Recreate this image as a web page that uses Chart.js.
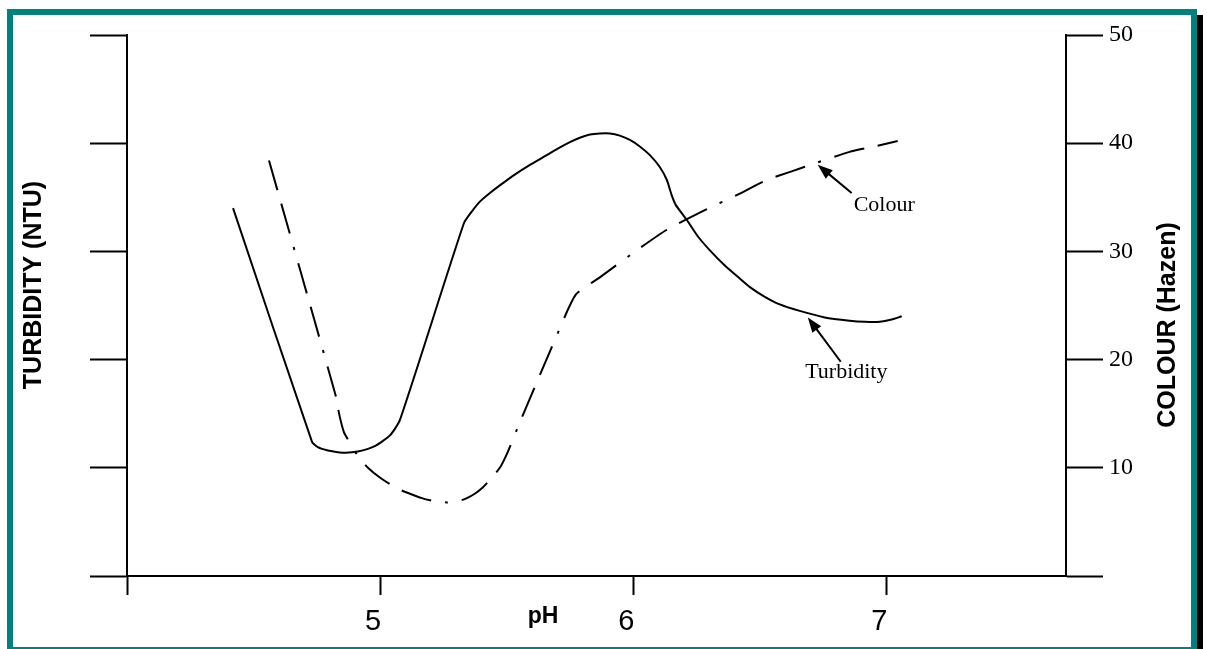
<!DOCTYPE html>
<html>
<head>
<meta charset="utf-8">
<script src="https://cdn.jsdelivr.net/npm/chart.js@4.4.1/dist/chart.umd.min.js"></script>
<style>
  html, body { margin: 0; padding: 0; background: #fff; overflow: hidden; }
  #wrap { position: relative; width: 1207px; height: 649px; }
  #frame {
    position: absolute; left: 7px; top: 9px; width: 1190px; height: 644px;
    box-sizing: border-box; border: 6px solid #008080;
    box-shadow: 6px 6px 0 0 #000; pointer-events: none;
  }
  canvas { position: absolute; left: 0; top: 0; }
</style>
</head>
<body>
<div id="wrap">
  <canvas id="chart" width="1207" height="649"></canvas>
  <div id="frame"></div>
</div>
<script>
// pH vs turbidity (solid line, left axis, unlabelled)
const phTurbidity = [4.419, 4.731, 4.754, 4.794, 4.853, 4.912, 4.979, 5.039, 5.078, 5.331,
  5.363, 5.394, 5.434, 5.473, 5.532, 5.592, 5.651, 5.702, 5.750, 5.789, 5.829, 5.868,
  5.908, 5.947, 5.987, 6.026, 6.066, 6.105, 6.133, 6.152, 6.168, 6.212, 6.255, 6.303,
  6.362, 6.421, 6.461, 6.520, 6.579, 6.658, 6.757, 6.855, 6.915, 6.974, 7.021, 7.061];
const turbidity = [34.0, 12.4, 11.9, 11.6, 11.4, 11.5, 12.0, 13.0, 14.4, 32.6,
  33.7, 34.6, 35.4, 36.1, 37.1, 38.0, 38.8, 39.5, 40.1, 40.5, 40.8, 40.9,
  40.9, 40.7, 40.3, 39.7, 38.9, 37.8, 36.6, 35.2, 34.3, 32.9, 31.4, 30.1,
  28.7, 27.5, 26.7, 25.8, 25.1, 24.5, 23.9, 23.6, 23.5, 23.5, 23.7, 24.0];

// pH vs colour (dash-dot line, right axis, Hazen)
const phColour = [4.561, 4.829, 4.837, 4.857, 4.881, 4.912, 4.952, 4.999, 5.066, 5.118,
  5.165, 5.216, 5.264, 5.307, 5.343, 5.374, 5.402, 5.434, 5.473, 5.505, 5.552, 5.694,
  5.773, 5.868, 6.014, 6.133, 6.291, 6.409, 6.528, 6.626, 6.725, 6.855, 6.954, 7.045];
const colour = [38.4, 16.3, 15.1, 13.3, 12.3, 11.1, 10.0, 9.1, 8.1, 7.6,
  7.2, 6.9, 6.8, 6.9, 7.2, 7.6, 8.1, 8.9, 10.0, 11.5, 14.2, 22.0,
  26.0, 27.6, 30.1, 32.0, 33.9, 35.2, 36.6, 37.4, 38.2, 39.2, 39.7, 40.2];

const xTicks = [4, 5, 6, 7];
const yTicks = [0, 10, 20, 30, 40, 50];

// arrow callouts, in (pH, value) units
const callouts = [
  { text: 'Colour', tip: [6.729, 38.0], tail: [6.863, 35.4], at: [6.871, 34.3], align: 'left' },
  { text: 'Turbidity', tip: [6.690, 23.9], tail: [6.820, 19.8], at: [6.842, 18.8], align: 'center' }
];

const toPoints = (xs, ys) => xs.map((x, i) => ({ x: x, y: ys[i] }));

function drawArrow(ctx, x1, y1, x2, y2) {
  const a = Math.atan2(y2 - y1, x2 - x1);
  const len = 15, half = 5.5;
  ctx.lineWidth = 2;
  ctx.beginPath();
  ctx.moveTo(x1, y1);
  ctx.lineTo(x2 - (len - 2) * Math.cos(a), y2 - (len - 2) * Math.sin(a));
  ctx.stroke();
  const bx = x2 - len * Math.cos(a), by = y2 - len * Math.sin(a);
  ctx.beginPath();
  ctx.moveTo(x2, y2);
  ctx.lineTo(bx + half * Math.sin(a), by - half * Math.cos(a));
  ctx.lineTo(bx - half * Math.sin(a), by + half * Math.cos(a));
  ctx.closePath();
  ctx.fill();
}

const notes = {
  id: 'notes',
  afterDraw(chart) {
    const { ctx } = chart;
    const x = chart.scales.x, y = chart.scales.yCol;
    ctx.save();
    ctx.fillStyle = '#000';
    ctx.strokeStyle = '#000';

    // axis titles, both read bottom to top
    ctx.font = 'bold 25px "Liberation Sans", Arial, sans-serif';
    ctx.textAlign = 'center';
    ctx.textBaseline = 'middle';
    [['TURBIDITY (NTU)', 34, 285], ['COLOUR (Hazen)', 1168, 325]].forEach(([t, cx, cy]) => {
      ctx.save();
      ctx.translate(cx, cy);
      ctx.rotate(-Math.PI / 2);
      ctx.fillText(t, 0, 0);
      ctx.restore();
    });

    ctx.font = 'bold 23px "Liberation Sans", Arial, sans-serif';
    ctx.textBaseline = 'alphabetic';
    ctx.fillText('pH', 543, 623);

    ctx.font = '22px "Liberation Serif", "Times New Roman", serif';
    ctx.textBaseline = 'middle';
    callouts.forEach(c => {
      drawArrow(ctx,
        x.getPixelForValue(c.tail[0]), y.getPixelForValue(c.tail[1]),
        x.getPixelForValue(c.tip[0]), y.getPixelForValue(c.tip[1]));
      ctx.textAlign = c.align;
      ctx.fillText(c.text, x.getPixelForValue(c.at[0]), y.getPixelForValue(c.at[1]));
    });
    ctx.restore();
  }
};

const axisLine = { color: '#000', width: 2 };

new Chart(document.getElementById('chart').getContext('2d'), {
  type: 'line',
  data: {
    datasets: [
      {
        label: 'Turbidity',
        data: toPoints(phTurbidity, turbidity),
        yAxisID: 'yTurb',
        borderColor: '#000',
        borderWidth: 2,
        pointRadius: 0,
        tension: 0.2,
        fill: false
      },
      {
        label: 'Colour',
        data: toPoints(phColour, colour),
        yAxisID: 'yCol',
        borderColor: '#000',
        borderWidth: 2,
        borderDash: [31, 14, 31, 14, 3, 14],
        pointRadius: 0,
        tension: 0.2,
        fill: false
      }
    ]
  },
  options: {
    responsive: false,
    animation: false,
    layout: { padding: { top: 35, left: 0, right: 0, bottom: 0 } },
    plugins: {
      legend: { display: false },
      tooltip: { enabled: false }
    },
    scales: {
      x: {
        type: 'linear',
        min: 4,
        max: 7.71,
        afterBuildTicks: s => { s.ticks = xTicks.map(v => ({ value: v })); },
        afterFit: s => { s.height = 73; },
        border: axisLine,
        grid: { drawOnChartArea: false, tickLength: 19, tickColor: '#000', tickWidth: 2 },
        ticks: {
          callback: v => (v === 4 ? '' : v),
          color: '#000',
          font: { family: '"Liberation Sans", Arial, sans-serif', size: 29 },
          padding: 10,
          labelOffset: -7,
          maxRotation: 0
        }
      },
      yTurb: {
        position: 'left',
        min: 0,
        max: 50,
        afterBuildTicks: s => { s.ticks = yTicks.map(v => ({ value: v })); },
        afterFit: s => { s.width = 127; },
        border: axisLine,
        grid: { drawOnChartArea: false, tickLength: 37, tickColor: '#000', tickWidth: 2 },
        ticks: { display: false }
      },
      yCol: {
        position: 'right',
        min: 0,
        max: 50,
        afterBuildTicks: s => { s.ticks = yTicks.map(v => ({ value: v })); },
        afterFit: s => { s.width = 141; },
        border: axisLine,
        grid: { drawOnChartArea: false, tickLength: 37, tickColor: '#000', tickWidth: 2 },
        ticks: {
          callback: v => (v === 0 ? '' : v),
          color: '#000',
          font: { family: '"Liberation Serif", "Times New Roman", serif', size: 24 },
          padding: 6
        }
      }
    }
  },
  plugins: [notes]
});
</script>
</body>
</html>
